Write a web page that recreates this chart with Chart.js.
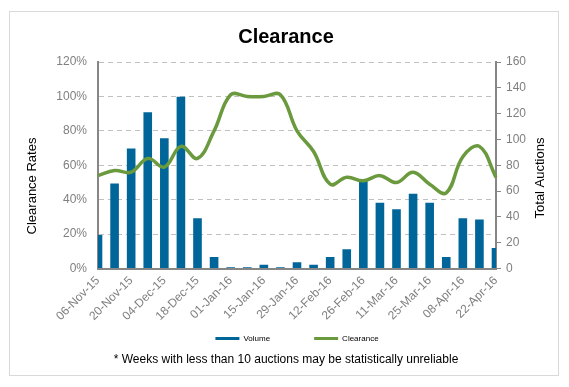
<!DOCTYPE html>
<html>
<head>
<meta charset="utf-8">
<script src="https://cdn.jsdelivr.net/npm/chart.js@4.4.1/dist/chart.umd.min.js"></script>
<style>
  body { margin: 0; background: #fff; }
  #wrap { width: 569px; height: 387px; }
</style>
</head>
<body>
<div id="wrap"><canvas id="clearance" width="569" height="387"></canvas></div>
<script>
// weekly auction results
let weeks = ['06-Nov-15','13-Nov-15','20-Nov-15','27-Nov-15','04-Dec-15','11-Dec-15','18-Dec-15','25-Dec-15',
  '01-Jan-16','08-Jan-16','15-Jan-16','22-Jan-16','29-Jan-16','05-Feb-16','12-Feb-16','19-Feb-16','26-Feb-16',
  '04-Mar-16','11-Mar-16','18-Mar-16','25-Mar-16','01-Apr-16','08-Apr-16','15-Apr-16','22-Apr-16']
let volume = [26,66,93,121,101,133,39,9,1,1,3,1,5,3,9,15,69,51,46,58,51,9,39,38,16]
let clearanceRate = [54,57,56,64,59,71,64,80,101,100,100,101,80,68,49,53,51,54,50,56,49,44,65,71,53]
let rateTicks = [0,20,40,60,80,100,120]

let blue = '#006699'
let green = '#6b9a3e'
let grey = '#7f7f7f'
let font = 'Arial, "Liberation Sans"'

// white background, outer frame and the two axis titles (both read bottom to top)
let frame = {
  id:'frame',
  beforeDraw(chart){
    let c = chart.ctx
    c.save()
    c.fillStyle = '#fff'
    c.fillRect(0,0,chart.width,chart.height)
    c.strokeStyle = '#d9d9d9'
    c.lineWidth = 1
    c.strokeRect(9.5,11.5,549,364)
    c.restore()
  },
  afterDraw(chart){
    let c = chart.ctx
    let titles = [['Clearance Rates',32,186],['Total Auctions',540,178]]
    c.save()
    c.fillStyle = '#000'
    c.font = '13px ' + font
    c.textAlign = 'center'
    c.textBaseline = 'middle'
    titles.forEach(([t,x,y]) => {
      c.save()
      c.translate(x,y)
      c.rotate(-Math.PI/2)
      c.fillText(t,0,0)
      c.restore()
    })
    c.restore()
  }
}

let ctx = document.querySelector('#clearance').getContext('2d')

let chart = new Chart(ctx, {
  type:'bar',
  data:{
    labels:weeks,
    datasets:[{
      label:'Volume',
      data:volume,
      backgroundColor:blue,
      yAxisID:'auctions',
      barPercentage:0.52,
      categoryPercentage:1,
      order:2
    },{
      type:'line',
      label:'Clearance',
      data:clearanceRate,
      borderColor:green,
      backgroundColor:green,
      borderWidth:3.5,
      pointRadius:0,
      tension:0.4,
      yAxisID:'rate',
      order:1
    }]
  },
  plugins:[frame],
  options:{
    responsive:false,
    animation:false,
    layout:{ padding:{ left:25, right:22, top:0, bottom:20 } },
    plugins:{
      title:{
        display:true,
        text:'Clearance',
        color:'#000',
        font:{ family:font, size:20, weight:'bold' },
        padding:{ top:25, bottom:13 }
      },
      subtitle:{
        display:true,
        position:'bottom',
        text:'* Weeks with less than 10 auctions may be statistically unreliable',
        color:'#000',
        font:{ family:font, size:12 },
        padding:{ top:0, bottom:0 }
      },
      legend:{
        position:'bottom',
        fullSize:false,
        labels:{
          boxWidth:24,
          boxHeight:3,
          padding:4,
          color:'#000',
          font:{ family:font, size:8 },
          generateLabels(chart){
            return chart.data.datasets.map((d,i) => ({
              text: i === 0 ? d.label + '\u00a0'.repeat(18) : d.label,
              fillStyle: i === 0 ? blue : green,
              strokeStyle: i === 0 ? blue : green,
              lineWidth:0,
              datasetIndex:i
            }))
          }
        }
      },
      tooltip:{ enabled:false }
    },
    scales:{
      x:{
        offset:false,
        grid:{ display:false, drawTicks:false },
        border:{ color:'#868686', width:2 },
        afterFit(scale){ scale.height = 62 },
        ticks:{
          autoSkip:false,
          minRotation:45,
          maxRotation:45,
          padding:5,
          color:grey,
          font:{ family:font, size:12 },
          callback(v,i){ return i % 2 === 0 ? weeks[i] : '' }
        }
      },
      rate:{
        position:'left',
        min:0,
        max:120,
        afterFit(scale){ scale.width = 73 },
        afterBuildTicks(scale){ scale.ticks = rateTicks.map(v => ({ value:v })) },
        grid:{ color:'#c0c0c0', drawTicks:false },
        border:{ color:'#868686', width:2, dash:[5,4] },
        ticks:{
          padding:11,
          color:grey,
          font:{ family:font, size:12 },
          callback(v){ return v + '%' }
        }
      },
      auctions:{
        position:'right',
        min:0,
        max:160,
        afterFit(scale){ scale.width = 51 },
        grid:{ drawOnChartArea:false, color:'#868686', tickLength:5 },
        border:{ color:'#868686', width:2 },
        ticks:{
          stepSize:20,
          padding:5,
          color:grey,
          font:{ family:font, size:12 }
        }
      }
    }
  }
})
</script>
</body>
</html>
